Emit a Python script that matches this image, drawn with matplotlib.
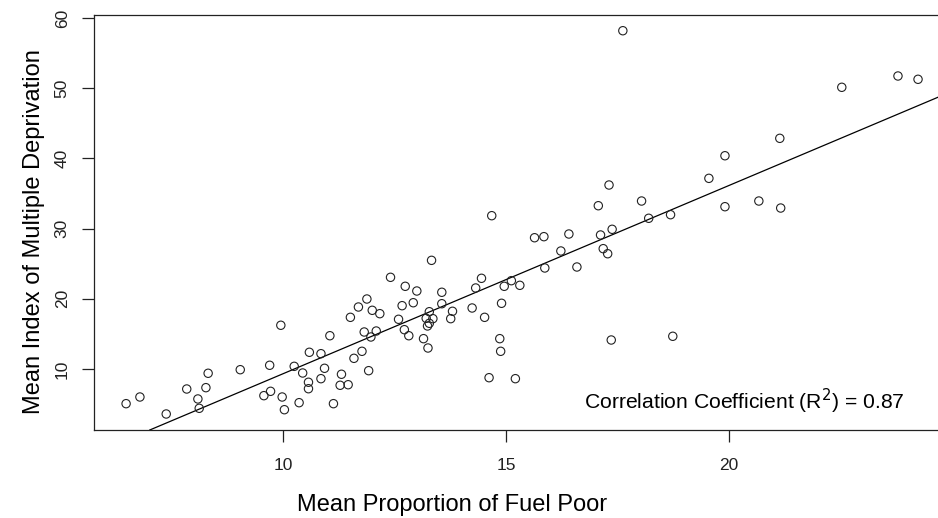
import numpy as np
import matplotlib
matplotlib.use("Agg")
import matplotlib.pyplot as plt

plt.rcParams["font.family"] = ["Liberation Sans", "DejaVu Sans"]

# mean proportion of fuel poor households per area (%)
fuel_poor = [
    6.48, 6.79, 7.38, 7.84, 8.09, 8.12, 8.27, 8.32, 9.04, 9.57,
    9.72, 9.70, 9.95, 9.98, 10.03, 10.25, 10.36, 10.44, 10.57, 10.57,
    10.59, 10.85, 10.93, 10.85, 11.05, 11.13, 11.31, 11.28, 11.46, 11.51,
    11.59, 11.69, 11.77, 11.88, 11.82, 11.92, 12.00, 12.09, 11.97, 12.17,
    12.41, 12.59, 12.67, 12.74, 12.72, 12.82, 12.92, 13.00, 13.15, 13.25,
    13.21, 13.24, 13.28, 13.36, 13.28, 13.33, 13.56, 13.56, 13.76, 13.80,
    14.24, 14.32, 14.45, 14.52, 14.62, 14.86, 14.88, 14.90, 14.96, 15.12,
    15.31, 15.21, 14.68, 15.64, 15.85, 15.87, 16.23, 16.41, 16.59, 17.07,
    17.12, 17.18, 17.28, 17.31, 17.38, 18.04, 18.20, 18.69, 19.55, 19.91,
    19.91, 20.67, 21.16, 21.14, 22.53, 23.79, 24.24, 17.36, 18.74, 17.62,
]

# mean index of multiple deprivation for the same areas
imd = [
    5.06, 6.01, 3.59, 7.15, 5.73, 4.40, 7.34, 9.39, 9.90, 6.20,
    6.82, 10.53, 16.23, 6.01, 4.20, 10.38, 5.20, 9.43, 8.11, 7.19,
    12.38, 12.18, 10.10, 8.62, 14.74, 5.06, 9.25, 7.68, 7.76, 17.36,
    11.52, 18.83, 12.52, 19.97, 15.27, 9.76, 18.36, 15.41, 14.56, 17.88,
    23.06, 17.08, 19.02, 21.78, 15.60, 14.74, 19.44, 21.11, 14.32, 12.99,
    17.22, 16.13, 18.16, 17.17, 16.51, 25.48, 20.93, 19.30, 17.17, 18.22,
    18.69, 21.54, 22.92, 17.36, 8.76, 14.32, 12.52, 19.36, 21.78, 22.58,
    21.92, 8.62, 31.84, 28.70, 28.85, 24.39, 26.81, 29.23, 24.53, 33.26,
    29.09, 27.14, 26.42, 36.21, 29.90, 33.93, 31.47, 31.98, 37.16, 40.38,
    33.12, 33.93, 32.93, 42.86, 50.13, 51.74, 51.27, 14.13, 14.66, 58.19,
]

r_squared = 0.87

x = np.array(fuel_poor)
y = np.array(imd)
slope, intercept = np.polyfit(x, y, 1)

fig = plt.figure(figsize=(9.38, 5.18), dpi=100)
ax = fig.add_axes([0.1002, 0.1699, 0.9232, 0.8021])

ax.scatter(x, y, s=36, facecolors="none", edgecolors="#222222", linewidths=0.8, zorder=3)
ax.axline((0, intercept), slope=slope, color="black", linewidth=0.9)

ax.set_xlim(5.76, 25.18)
ax.set_ylim(1.31, 60.5)
ax.set_xticks([10, 15, 20])
ax.set_yticks([10, 20, 30, 40, 50, 60])
ax.tick_params(axis="both", direction="out", length=8.5, width=0.9, labelsize=12.5, colors="#222222")
ax.tick_params(axis="x", pad=12)
ax.tick_params(axis="y", pad=9)
for lab in ax.get_yticklabels():
    lab.set_rotation(90)
    lab.set_va("center")

for side in ["left", "top", "bottom"]:
    ax.spines[side].set_linewidth(0.9)
    ax.spines[side].set_color("#222222")
ax.spines["right"].set_visible(False)

ax.set_xlabel("Mean Proportion of Fuel Poor", fontsize=17)
ax.xaxis.set_label_coords(0.414, -0.155)
ax.set_ylabel("Mean Index of Multiple Deprivation", fontsize=17)
ax.yaxis.set_label_coords(-0.057, 0.478)

ax.text(0.9365, 0.07, "Correlation Coefficient (R$^2$) = %.2f" % r_squared,
        transform=ax.transAxes, ha="right", va="center", fontsize=15.2)

fig.savefig("out.png", dpi=100)
